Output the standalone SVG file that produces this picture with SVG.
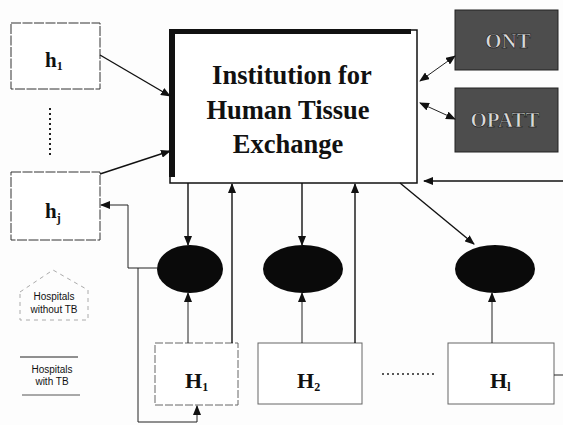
<svg xmlns="http://www.w3.org/2000/svg" width="563" height="425" viewBox="0 0 563 425">
<style>
.serif{font-family:"Liberation Serif","DejaVu Serif",serif;font-weight:bold;fill:#111}
.sans{font-family:"Liberation Sans",Arial,sans-serif;fill:#111;font-size:10px}
.hbox{fill:#fff;stroke:#333;stroke-width:1;stroke-dasharray:10 1.5}
.Hbox{fill:#fff;stroke:#666;stroke-width:1}
.ell{fill:#0a0a0a}
.dark{fill:#4d4d4d;stroke:#222;stroke-width:1}
.dtext{font-family:"Liberation Serif","DejaVu Serif",serif;font-weight:bold;fill:#d9d9d9;stroke:#111;stroke-width:0.6}
.c{stroke:#111;stroke-width:1.4;fill:none}
.thin{stroke:#222;stroke-width:1;fill:none}
</style>
<defs>
<marker id="ah" markerWidth="10" markerHeight="8" refX="9" refY="4" orient="auto" markerUnits="userSpaceOnUse">
<path d="M0,0 L10,4 L0,8 Z" fill="#111"/>
</marker>
<marker id="as" markerWidth="10" markerHeight="8" refX="1" refY="4" orient="auto" markerUnits="userSpaceOnUse">
<path d="M10,0 L0,4 L10,8 Z" fill="#111"/>
</marker>
</defs>
<rect width="563" height="425" fill="#fdfdfd"/>

<g id="main">
<rect x="170" y="30" width="247" height="153" fill="#fff" stroke="#111" stroke-width="1.5"/>
<rect x="169" y="29" width="6" height="148" fill="#111"/>
<rect x="169" y="29" width="242" height="5" fill="#111"/>
<text class="serif" x="292" y="84" font-size="26.5" text-anchor="middle">Institution for</text>
<text class="serif" x="288" y="119" font-size="26.5" text-anchor="middle">Human Tissue</text>
<text class="serif" x="288" y="153" font-size="26.5" text-anchor="middle">Exchange</text>
</g>

<g id="h1">
<rect class="hbox" x="11" y="23" width="89" height="66"/>
<text class="serif" x="45" y="67" font-size="21">h<tspan font-size="12" dy="3">1</tspan></text>
</g>
<g id="hj">
<rect class="hbox" x="11" y="172" width="89" height="68"/>
<text class="serif" x="45" y="218" font-size="21">h<tspan font-size="12" dy="4">j</tspan></text>
</g>

<g id="ont">
<rect class="dark" x="455" y="10" width="103" height="60"/>
<text class="dtext" x="508" y="48" font-size="21" text-anchor="middle">ONT</text>
</g>
<g id="opatt">
<rect class="dark" x="455" y="88" width="103" height="64"/>
<text class="dtext" x="505" y="127" font-size="21" text-anchor="middle">OPATT</text>
</g>

<g id="e1"><ellipse class="ell" cx="190" cy="269" rx="33" ry="24"/></g>
<g id="e2"><ellipse class="ell" cx="303" cy="269" rx="40" ry="24"/></g>
<g id="e3"><ellipse class="ell" cx="495" cy="269" rx="40" ry="24"/></g>

<g id="H1">
<rect class="Hbox" x="155" y="343" width="83" height="62" stroke-dasharray="8 2"/>
<text class="serif" x="185" y="388" font-size="22">H<tspan font-size="12" dy="3">1</tspan></text>
</g>
<g id="H2">
<rect class="Hbox" x="258" y="343" width="104" height="61"/>
<text class="serif" x="297" y="388" font-size="22">H<tspan font-size="12" dy="3">2</tspan></text>
</g>
<g id="Hl">
<rect class="Hbox" x="448" y="343" width="106" height="61"/>
<text class="serif" x="490" y="388" font-size="22">H<tspan font-size="12" dy="3">l</tspan></text>
</g>

<g id="legend-without">
<path d="M20,292 L53,270 L88,290 L88,320 L20,320 Z" fill="none" stroke="#aaa" stroke-width="1" stroke-dasharray="4 4"/>
<text class="sans" x="54" y="300" text-anchor="middle">Hospitals</text>
<text class="sans" x="54" y="313" text-anchor="middle">without TB</text>
</g>
<g id="legend-with">
<line x1="20" y1="357" x2="78" y2="357" stroke="#222" stroke-width="1"/>
<text class="sans" x="52" y="373" text-anchor="middle">Hospitals</text>
<text class="sans" x="52" y="385" text-anchor="middle">with TB</text>
<line x1="22" y1="395" x2="80" y2="395" stroke="#555" stroke-width="1"/>
</g>

<g id="connectors">
<line class="c" x1="100" y1="55" x2="170" y2="96" marker-end="url(#ah)"/>
<line class="c" x1="100" y1="174" x2="170" y2="151" marker-end="url(#ah)"/>
<line class="thin" x1="420" y1="81" x2="455" y2="56" marker-start="url(#as)" marker-end="url(#ah)"/>
<line class="thin" x1="420" y1="103" x2="455" y2="119" marker-start="url(#as)" marker-end="url(#ah)"/>
<line class="c" x1="563" y1="181" x2="424" y2="181" stroke-width="2" marker-end="url(#ah)"/>
<line class="c" x1="188" y1="183" x2="188" y2="245" marker-end="url(#ah)"/>
<line class="c" x1="232" y1="343" x2="232" y2="184" marker-end="url(#ah)"/>
<line class="c" x1="302" y1="183" x2="302" y2="245" stroke-width="2" marker-end="url(#ah)"/>
<line class="c" x1="355" y1="343" x2="355" y2="184" marker-end="url(#ah)"/>
<line class="c" x1="400" y1="183" x2="474" y2="244" marker-end="url(#ah)"/>
<line class="thin" x1="188" y1="343" x2="188" y2="293" marker-end="url(#ah)"/>
<line class="thin" x1="302" y1="343" x2="302" y2="293" marker-end="url(#ah)"/>
<line class="thin" x1="492" y1="343" x2="492" y2="293" marker-end="url(#ah)"/>
<path class="thin" d="M158,268 H128 V205 H101" marker-end="url(#ah)"/>
<path class="thin" d="M138,268 V422 H197 V406" marker-end="url(#ah)"/>
<line class="thin" x1="554" y1="375" x2="563" y2="375"/>
<line x1="50" y1="108" x2="50" y2="155" stroke="#222" stroke-width="2" stroke-dasharray="2 3"/>
<line x1="382" y1="374" x2="434" y2="374" stroke="#222" stroke-width="1.5" stroke-dasharray="2 3"/>
</g>
</svg>
